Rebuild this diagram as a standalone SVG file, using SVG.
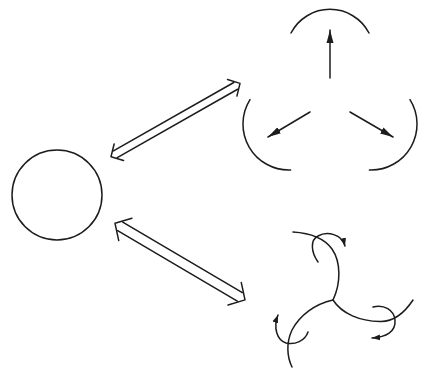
<svg xmlns="http://www.w3.org/2000/svg" width="425" height="371" viewBox="0 0 425 371">
<style>
.s{fill:none;stroke:#1c1c1c;stroke-width:1.5;stroke-linecap:round;stroke-linejoin:round}
</style>
<defs>
<marker id="ah" markerUnits="userSpaceOnUse" markerWidth="14" markerHeight="10" viewBox="0 0 14 10" refX="13" refY="5" orient="auto">
<path d="M0,1.5 L13,5 L0,8.5 Z" fill="#1c1c1c"/>
</marker>
<marker id="sh" markerUnits="userSpaceOnUse" markerWidth="9" markerHeight="8" viewBox="0 0 9 8" refX="8" refY="4" orient="auto">
<path d="M0,1 L8,4 L0,7 Z" fill="#1c1c1c"/>
</marker>
</defs>
<rect width="425" height="371" fill="#ffffff"/>
<g id="circle"><circle class="s" cx="57" cy="195" r="45"/></g>
<g id="connectors">
<g transform="translate(111,156.7) rotate(-29.6)">
<line class="s" x1="5" y1="-3.9" x2="143.4" y2="-3.9"/>
<line class="s" x1="5" y1="3.9" x2="143.4" y2="3.9"/>
<polyline class="s" points="9,-9.5 0,0 9,9.5"/>
<polyline class="s" points="139.4,-9.5 148.4,0 139.4,9.5"/>
</g>
<g transform="translate(115,223.3) rotate(30.5)">
<line class="s" x1="6" y1="-5" x2="144.9" y2="-5"/>
<line class="s" x1="6" y1="5" x2="144.9" y2="5"/>
<polyline class="s" points="12,-13 0,0 12,13"/>
<polyline class="s" points="138.9,-13 150.9,0 138.9,13"/>
</g>
</g>
<g id="radial">
<path class="s" d="M291,33 A44,44 0 0 1 369,33"/>
<path class="s" d="M250,99.6 A46,46 0 0 0 290.6,170"/>
<path class="s" d="M410,99.6 A46,46 0 0 1 369.4,170"/>
<line class="s" x1="330" y1="78" x2="330" y2="30" marker-end="url(#ah)"/>
<line class="s" x1="310" y1="112" x2="268" y2="137" marker-end="url(#ah)"/>
<line class="s" x1="350" y1="112" x2="393" y2="137" marker-end="url(#ah)"/>
</g>
<g id="swirl">
<path class="s" d="M333,300 C341,283 341,262 332,249 C324,238 310,233 293,232"/>
<path class="s" d="M318,262 C311,252 310,240 318,236 C327,231 342,234 345,246" marker-end="url(#sh)"/>
<path class="s" d="M333,300 C342,314 360,321 380,321.5 C395,322 405,312 413,300"/>
<path class="s" d="M373,307 C384,304 394,310 395,320 C396,332 386,337 372,338" marker-end="url(#sh)"/>
<path class="s" d="M333,300 C315,304 300,315 292,330 C286,343 287,357 292,367"/>
<path class="s" d="M308,332 C305,341 295,345 286,343 C277,340 273,328 278,315" marker-end="url(#sh)"/>
</g>
</svg>
